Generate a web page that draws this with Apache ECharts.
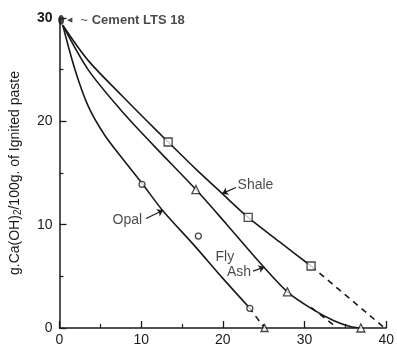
<!DOCTYPE html>
<html>
<head>
<meta charset="utf-8">
<script src="https://cdn.jsdelivr.net/npm/echarts@6/dist/echarts.min.js"></script>
<style>
  html, body { margin: 0; padding: 0; background: #fff; }
  #chart { width: 397px; height: 352px; }
</style>
</head>
<body>
<div id="chart"></div>
<script>
// curves (x, y)
const shaleCurve = [[0.4, 29.3], [3.5, 25.9], [7.5, 22.6], [10.5, 20.2], [13.3, 18.0], [16.8, 15.3], [19.8, 13.1], [23.1, 10.7], [27.0, 8.3], [30.8, 6.0]];
const shaleDash = [[30.8, 6.0], [39.8, 0]];
const flyCurve = [[0.4, 29.3], [3.5, 25.0], [7.5, 21.1], [11.6, 17.6], [16.7, 13.4], [20.5, 10.0], [24.9, 6.0], [27.9, 3.5], [30.8, 1.9], [33.6, 0.7], [35.6, 0.15], [36.9, 0]];
const flyDash = [[30.8, 2.0], [34.0, 0]];
const opalCurve = [[0.4, 29.3], [1.9, 25.0], [3.5, 21.5], [5.5, 18.7], [7.8, 16.3], [10.1, 14.0], [12.6, 11.4], [16.6, 7.9], [20.0, 4.8], [23.2, 2.0]];
const opalDash = [[23.2, 2.0], [25.1, 0]];

// measured points
const shalePts = [[13.3, 18.0], [23.1, 10.7], [30.8, 6.0]];
const flyPts = [[16.7, 13.4], [27.9, 3.5], [36.9, 0]];
const opalPts = [[10.1, 13.9], [17.0, 8.9], [23.3, 1.9]];
const opalEnd = [[25.1, 0]];
const cementPt = [[0.2, 29.8]];

// text labels (left edge, middle) and their arrows
const curveLabels = [
  { name: 'Shale', value: [21.8, 13.8] },
  { name: 'Opal', value: [6.5, 10.4] },
  { name: 'Fly', value: [19.1, 6.9] },
  { name: 'Ash', value: [20.5, 5.4] }
];
const labelArrows = [
  [[21.6, 13.6], [19.9, 13.0]],
  [[10.6, 10.6], [12.7, 11.4]],
  [[23.7, 5.5], [25.1, 5.9]]
];

const xTicks = [0, 10, 20, 30, 40];
const yTicks = [0, 10, 20, 30];

const ink = '#1a1a1a';
const font = 'Liberation Sans, Arial, sans-serif';

const chart = echarts.init(document.getElementById('chart'));

const curve = (data, dashed) => ({
  type: 'line',
  data: data,
  smooth: dashed ? false : 0.3,
  showSymbol: false,
  silent: true,
  lineStyle: { color: ink, width: 1.6, type: dashed ? [6, 5] : 'solid' },
  z: 2
});

const marks = (data, symbol, size) => ({
  type: 'scatter',
  data: data,
  symbol: symbol,
  symbolSize: size,
  itemStyle: { color: '#fff', borderColor: ink, borderWidth: 1.3 },
  z: 4
});

chart.setOption({
  animation: false,
  textStyle: { fontFamily: font },
  grid: { left: 59, right: 7, top: 18, bottom: 24 },
  xAxis: {
    type: 'value',
    min: 0,
    max: 40,
    interval: 10,
    axisLine: { lineStyle: { color: ink, width: 1.5 } },
    axisTick: { inside: true, length: 7, lineStyle: { color: ink, width: 1.3 } },
    minorTick: { show: true, splitNumber: 2, length: 4, lineStyle: { color: ink, width: 1.2 } },
    splitLine: { show: false },
    axisLabel: {
      color: ink, fontSize: 14, margin: 5,
      formatter: v => xTicks.includes(v) ? String(v) : ''
    }
  },
  yAxis: {
    type: 'value',
    min: 0,
    max: 30,
    interval: 10,
    axisLine: { show: true, lineStyle: { color: ink, width: 1.5 } },
    axisTick: { show: true, inside: true, length: 7, lineStyle: { color: ink, width: 1.3 } },
    minorTick: { show: true, splitNumber: 2, length: 4, lineStyle: { color: ink, width: 1.2 } },
    splitLine: { show: false },
    axisLabel: {
      color: ink, fontSize: 14, margin: 7,
      formatter: v => yTicks.includes(v) ? (v === 30 ? '{b|30}' : String(v)) : '',
      rich: { b: { fontWeight: 'bold', fontSize: 14, color: ink } }
    },
    name: '{a|g.Ca(OH)}{s|2}{a|/100g. of Ignited paste}',
    nameLocation: 'middle',
    nameGap: 36,
    nameTextStyle: {
      rich: {
        a: { fontSize: 14, color: ink, fontFamily: font },
        s: { fontSize: 10, color: ink, fontFamily: font, verticalAlign: 'bottom', padding: [7, 0, 0, 0] }
      }
    }
  },
  series: [
    curve(shaleCurve, false),
    curve(shaleDash, true),
    curve(flyCurve, false),
    curve(flyDash, true),
    curve(opalCurve, false),
    curve(opalDash, true),
    marks(shalePts, 'rect', 8),
    marks(flyPts, 'triangle', 8),
    marks(opalEnd, 'triangle', 7),
    marks(opalPts, 'circle', 6),
    {
      type: 'scatter',
      data: cementPt,
      symbol: 'circle',
      symbolSize: [6, 10],
      itemStyle: { color: ink },
      label: {
        show: true,
        position: 'right',
        distance: 3,
        formatter: '{h|◀}{d|~}{t|Cement LTS 18}',
        rich: {
          h: { fontSize: 7, color: ink, padding: [0, 8, 0, 0] },
          d: { fontSize: 13, color: ink, padding: [0, 4, 0, 0] },
          t: { fontSize: 13, fontWeight: 'bold', color: ink, fontFamily: font }
        }
      },
      z: 5
    },
    {
      type: 'scatter',
      data: curveLabels,
      symbolSize: 0,
      silent: true,
      label: {
        show: true,
        position: 'inside',
        formatter: p => p.name,
        color: ink,
        fontSize: 14,
        fontFamily: font,
        align: 'left'
      },
      markLine: {
        silent: true,
        symbol: ['none', 'arrow'],
        symbolSize: 6,
        label: { show: false },
        lineStyle: { color: ink, width: 1.2, type: 'solid' },
        data: labelArrows.map(a => [{ coord: a[0] }, { coord: a[1] }])
      }
    }
  ]
});
</script>
</body>
</html>
